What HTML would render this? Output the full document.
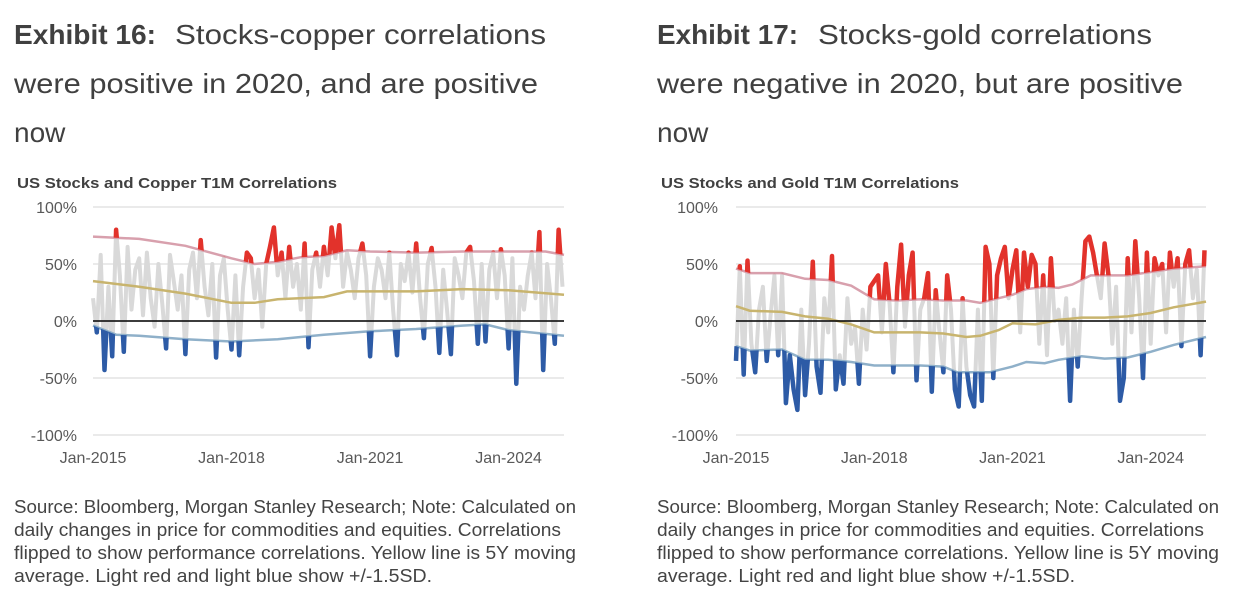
<!DOCTYPE html>
<html><head><meta charset="utf-8">
<style>
html,body{margin:0;padding:0;background:#fff;}
svg{display:block;font-family:"Liberation Sans",sans-serif;}
</style></head>
<body>
<svg id="s" width="1244" height="612" viewBox="0 0 1244 612">
  <g fill="#404040" font-size="28">
    <text x="14" y="44" font-weight="bold" textLength="142" lengthAdjust="spacingAndGlyphs">Exhibit 16:</text>
    <text x="175" y="44" textLength="371" lengthAdjust="spacingAndGlyphs">Stocks-copper correlations</text>
    <text x="14" y="93" textLength="524" lengthAdjust="spacingAndGlyphs">were positive in 2020, and are positive</text>
    <text x="14" y="142">now</text>
  </g>
  <g fill="#404040" font-size="28">
    <text x="657" y="44" font-weight="bold" textLength="141" lengthAdjust="spacingAndGlyphs">Exhibit 17:</text>
    <text x="818" y="44" textLength="334" lengthAdjust="spacingAndGlyphs">Stocks-gold correlations</text>
    <text x="657" y="93" textLength="526" lengthAdjust="spacingAndGlyphs">were negative in 2020, but are positive</text>
    <text x="657" y="142">now</text>
  </g>
  <g fill="#444" font-size="18">
    <text x="14" y="513" textLength="562" lengthAdjust="spacingAndGlyphs">Source: Bloomberg, Morgan Stanley Research; Note: Calculated on</text>
    <text x="14" y="536" textLength="547" lengthAdjust="spacingAndGlyphs">daily changes in price for commodities and equities. Correlations</text>
    <text x="14" y="559" textLength="562" lengthAdjust="spacingAndGlyphs">flipped to show performance correlations. Yellow line is 5Y moving</text>
    <text x="14" y="582" textLength="418" lengthAdjust="spacingAndGlyphs">average. Light red and light blue show +/-1.5SD.</text>
  </g>
  <g fill="#444" font-size="18">
    <text x="657" y="513" textLength="562" lengthAdjust="spacingAndGlyphs">Source: Bloomberg, Morgan Stanley Research; Note: Calculated on</text>
    <text x="657" y="536" textLength="547" lengthAdjust="spacingAndGlyphs">daily changes in price for commodities and equities. Correlations</text>
    <text x="657" y="559" textLength="562" lengthAdjust="spacingAndGlyphs">flipped to show performance correlations. Yellow line is 5Y moving</text>
    <text x="657" y="582" textLength="418" lengthAdjust="spacingAndGlyphs">average. Light red and light blue show +/-1.5SD.</text>
  </g>
  <text x="17" y="188" font-size="15" font-weight="bold" fill="#404040" textLength="320" lengthAdjust="spacingAndGlyphs">US Stocks and Copper T1M Correlations</text>
  <text x="661" y="188" font-size="15" font-weight="bold" fill="#404040" textLength="298" lengthAdjust="spacingAndGlyphs">US Stocks and Gold T1M Correlations</text>
  <g id="c1"></g>
  <g id="c2"></g>
</svg>
<script>
// ---- shared axis data ----
const yTicks = [100, 50, 0, -50, -100];
const yTickLabels = ["100%", "50%", "0%", "-50%", "-100%"];
const xTickYears = [2015, 2018, 2021, 2024];
const xTickLabels = ["Jan-2015", "Jan-2018", "Jan-2021", "Jan-2024"];
const startYear = 2015;
const endYear = 2025.2;

// ---- copper chart data (monthly from Jan-2015) ----
const copperCorr = [
 20,-10,58,-43,30,-31,80,40,-27,65,10,45,
 55,5,60,20,-5,50,15,-24,58,35,10,40,
 -29,45,60,20,71,30,5,50,-32,40,55,10,
 -25,40,-30,30,60,55,20,45,-5,50,65,82,
 40,60,20,65,30,50,10,68,-23,45,60,30,
 65,40,82,55,84,30,60,45,20,55,68,40,
 -31,30,55,45,20,60,10,-30,50,35,60,25,
 68,20,-15,50,64,30,-28,45,10,-29,55,40,
 20,60,65,35,-20,50,-18,45,60,20,63,40,
 -24,55,-55,30,10,40,60,20,78,-43,50,20,
 -20,80,30];
const copperUpperYears = [2015,2016,2017,2018,2018.5,2019,2019.5,2020,2020.5,2021,2022,2023,2024,2024.8,2025.2];
const copperUpper = [74,72,66,55,50,52,56,57,62,61,60,61,61,61,58];
const copperMidYears = [2015,2016,2017,2018,2018.5,2019,2020,2020.5,2021,2022,2023,2024,2025.2];
const copperMid = [35,30,24,16,16,19,21,26,26,26,28,27,23];
const copperLowerYears = [2015,2015.5,2016,2017,2018,2019,2020,2021,2022,2023,2023.5,2024,2025.2];
const copperLower = [-4,-12,-13,-16,-18,-16,-12,-9,-7,-4,-3,-8,-13];

// ---- gold chart data (monthly from Jan-2015) ----
const goldCorr = [
 -35,48,-47,53,-20,-45,10,30,-35,5,40,-30,
 40,-72,-30,-60,-78,10,-65,-20,52,-40,-63,20,
 -10,57,-60,-30,-55,20,-20,-5,-55,10,-25,30,
 35,40,-10,50,15,-45,30,67,-5,40,60,-52,
 10,20,42,-62,27,-10,-45,40,10,-60,-75,20,
 -40,-65,-75,10,-70,65,50,-50,40,55,65,20,
 45,62,-10,60,30,58,50,-20,40,-30,55,0,
 10,-20,20,-70,10,-40,20,70,74,60,40,20,
 68,40,-20,30,-70,-50,55,-10,70,20,-50,60,
 -20,55,40,50,-10,60,30,55,-22,50,62,20,
 45,-30,62];
const goldUpperYears = [2015,2015.3,2016,2016.5,2017,2017.5,2018,2018.5,2019,2019.5,2020,2020.3,2020.7,2021,2021.3,2021.7,2022,2022.3,2022.7,2023,2023.5,2024,2024.5,2025.2];
const goldUpper = [46,42,42,37,36,31,19,18,19,18,18,16,20,23,28,30,29,32,40,40,40,43,46,48];
const goldMidYears = [2015,2015.3,2016,2016.5,2017,2017.5,2018,2019,2019.5,2020,2020.3,2020.7,2021,2021.5,2022,2022.5,2023,2023.5,2024,2024.5,2025.2];
const goldMid = [13,9,8,4,2,-3,-10,-10,-11,-14,-13,-8,-2,-3,1,3,3,4,7,12,17];
const goldLowerYears = [2015,2015.3,2016,2016.5,2017,2017.5,2018,2019,2019.5,2019.8,2020,2020.5,2021,2021.3,2021.7,2022,2022.5,2023,2023.5,2024,2024.5,2025.2];
const goldLower = [-22,-26,-25,-34,-34,-36,-39,-39,-40,-45,-45,-45,-40,-36,-37,-34,-31,-33,-32,-27,-21,-14];

const NS = "http://www.w3.org/2000/svg";
function mk(tag, attrs, parent) {
  const e = document.createElementNS(NS, tag);
  for (const k in attrs) e.setAttribute(k, attrs[k]);
  parent.appendChild(e);
  return e;
}

function drawChart(g, id, x0, x1, labelRight, corr, uy, u, my, m, ly, l) {
  const yTop = 207, yBot = 435;
  const yS = v => 321 - v * (yBot - yTop) / 200;
  const xS = t => x0 + (t - startYear) / (endYear - startYear) * (x1 - x0);
  const tOf = i => startYear + i / 12;
  yTicks.forEach((v, i) => {
    const ln = mk("line", {x1: x0, x2: x1, y1: yS(v), y2: yS(v), stroke: "#e3e3e3", "stroke-width": 1.5}, g);
    
    
    const tx = mk("text", {x: labelRight, y: yS(v) + 6, "text-anchor": "end", "font-size": 16, fill: "#595959"}, g);
    tx.textContent = yTickLabels[i];
    
    
  });
  xTickYears.forEach((t, i) => {
    const tx = mk("text", {x: xS(t), y: 463, "text-anchor": "middle", "font-size": 16, fill: "#595959"}, g);
    tx.textContent = xTickLabels[i];
    
    
  });
  const bandPts = (ys, vs) => ys.map((t, i) => xS(t).toFixed(1) + "," + yS(vs[i]).toFixed(1));
  const corrPts = corr.map((v, i) => xS(tOf(i)).toFixed(1) + "," + yS(v).toFixed(1)).join(" ");
  const defs = mk("defs", {}, g);
  const cpU = mk("clipPath", {id: id + "-up"}, defs);
  mk("polygon", {points: (x0 - 5) + ",0 " + (x0 - 5) + "," + yS(u[0]) + " " + bandPts(uy, u).join(" ") + " " + (x1 + 5) + "," + yS(u[u.length - 1]) + " " + (x1 + 5) + ",0"}, cpU);
  const cpL = mk("clipPath", {id: id + "-lo"}, defs);
  mk("polygon", {points: (x0 - 5) + ",612 " + (x0 - 5) + "," + yS(l[0]) + " " + bandPts(ly, l).join(" ") + " " + (x1 + 5) + "," + yS(l[l.length - 1]) + " " + (x1 + 5) + ",612"}, cpL);
  const gl = mk("polyline", {points: corrPts, fill: "none", stroke: "#d9d9d9", "stroke-width": 4, "stroke-linejoin": "round"}, g);
  
  
  const ub = mk("polyline", {points: bandPts(uy, u).join(" "), fill: "none", stroke: "#d8a0ad", "stroke-width": 2.5}, g);
  
  
  const mb = mk("polyline", {points: bandPts(my, m).join(" "), fill: "none", stroke: "#c8b46e", "stroke-width": 2.5}, g);
  
  
  const lb = mk("polyline", {points: bandPts(ly, l).join(" "), fill: "none", stroke: "#8fb0c9", "stroke-width": 2.5}, g);
  
  
  const rl = mk("polyline", {points: corrPts, fill: "none", stroke: "#e2322b", "stroke-width": 4.5, "stroke-linejoin": "round", "clip-path": "url(#" + id + "-up)"}, g);
  
  
  const bl = mk("polyline", {points: corrPts, fill: "none", stroke: "#2d5ba6", "stroke-width": 4.5, "stroke-linejoin": "round", "clip-path": "url(#" + id + "-lo)"}, g);
  
  
  const zl = mk("line", {x1: x0, x2: x1, y1: yS(0), y2: yS(0), stroke: "#000", "stroke-width": 1.5}, g);
  
  
}

drawChart(document.getElementById("c1"), "cu", 93, 564, 77, copperCorr,
  copperUpperYears, copperUpper, copperMidYears, copperMid, copperLowerYears, copperLower);
drawChart(document.getElementById("c2"), "au", 736, 1206, 718, goldCorr,
  goldUpperYears, goldUpper, goldMidYears, goldMid, goldLowerYears, goldLower);
</script>
</body></html>
